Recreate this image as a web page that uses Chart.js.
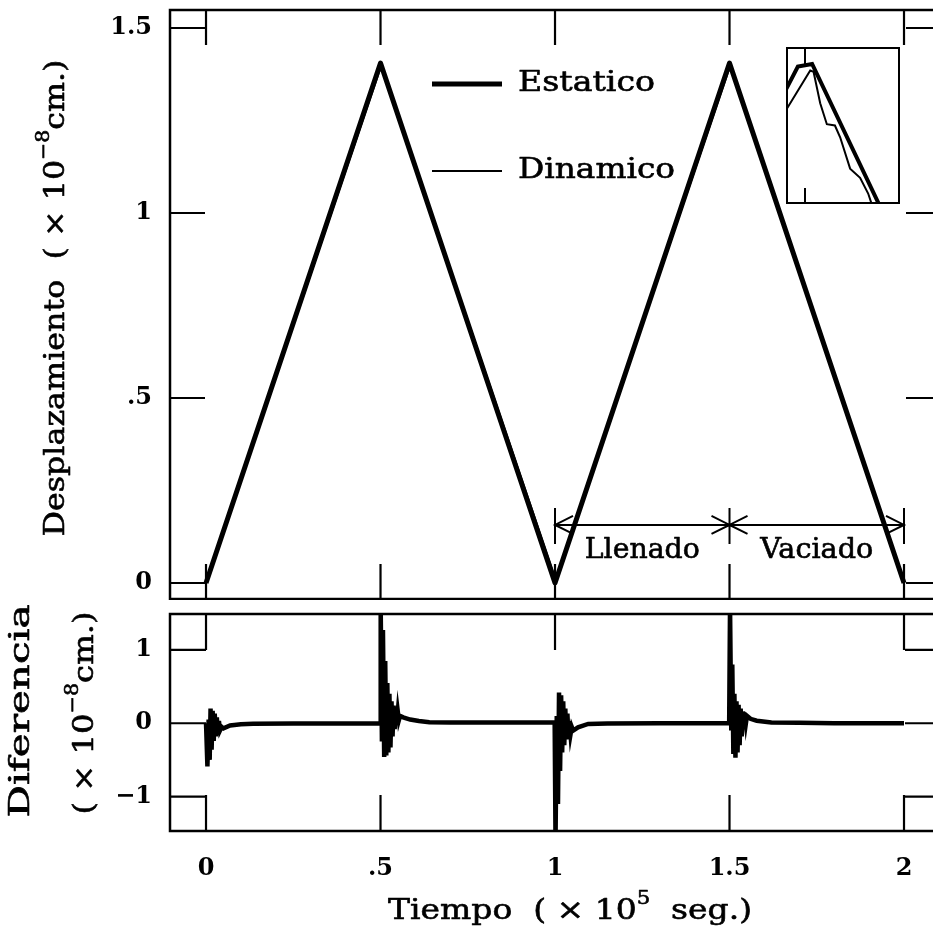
<!DOCTYPE html>
<html>
<head>
<meta charset="utf-8">
<script src="https://cdn.jsdelivr.net/npm/chart.js@4.4.1/dist/chart.umd.min.js"></script>
<style>
  html, body { margin: 0; padding: 0; background: #fff; overflow: hidden; }
  #wrap { position: relative; width: 933px; height: 931px; overflow: hidden; }
  canvas { position: absolute; }
  #top { left: 0; top: 0; }
  #bot { left: 0; top: 600px; }
  #ins { left: 786px; top: 47px; }
</style>
</head>
<body>
<div id="wrap">
  <canvas id="top" width="960" height="600"></canvas>
  <canvas id="bot" width="960" height="331"></canvas>
  <canvas id="ins" width="114" height="157"></canvas>
</div>
<script>
///////////////////////////////////////
//////////////// Data /////////////////
///////////////////////////////////////

const timeTicks = [0, 0.5, 1, 1.5, 2];
const dispTicks = [0, 0.5, 1, 1.5];
const diffTicks = [-1, 0, 1];

// Desplazamiento (x 10^-8 cm)
const estT = [0, 0.5, 1, 1.5, 2];
const estY = [0, 1.405, 0, 1.405, 0];
const dinT = [0, 0.502, 1.002, 1.502, 2];
const dinY = [0, 1.398, 0.01, 1.398, 0];

// Diferencia (dinamico - estatico)
const difT = [
  0, 0.004, 0.0075, 0.0105, 0.013, 0.016, 0.019, 0.022, 0.025, 0.028, 0.031, 0.034, 0.037, 0.040,
  0.045, 0.05, 0.069, 0.1, 0.135, 0.25, 0.499,
  0.5005, 0.504, 0.507, 0.5105, 0.5135, 0.5165, 0.5195, 0.5225, 0.5255, 0.5285, 0.5315, 0.5345,
  0.5375, 0.5405, 0.5435, 0.5465, 0.5495, 0.5525, 0.556, 0.565, 0.585, 0.61, 0.64, 0.7, 0.8, 0.999,
  1.0015, 1.005, 1.0085, 1.0115, 1.0145, 1.0175, 1.0205, 1.0235, 1.0265, 1.0295, 1.0325, 1.0355,
  1.0385, 1.0415, 1.0445, 1.048, 1.052, 1.066, 1.095, 1.15, 1.3, 1.499,
  1.5015, 1.505, 1.508, 1.511, 1.514, 1.517, 1.520, 1.523, 1.526, 1.529, 1.532, 1.535, 1.538,
  1.541, 1.544, 1.547, 1.550, 1.56, 1.578, 1.62, 1.7, 1.8, 2.0
];
const difY = [
  0, -0.59, 0.05, -0.50, 0.20, -0.36, 0.17, -0.24, 0.13, -0.18, 0.08, -0.14, 0.03, -0.10,
  -0.05, -0.07, -0.03, -0.015, -0.008, -0.005, 0.0,
  1.6, -0.25, 1.27, -0.46, 0.85, -0.44, 0.55, -0.40, 0.40, -0.33, 0.30, -0.18,
  0.24, -0.08, 0.20, 0.0, 0.16, 0.04, 0.10, 0.08, 0.05, 0.03, 0.015, 0.01, 0.01, 0.01,
  -1.6, 0.1, -1.1, 0.42, -0.65, 0.38, -0.40, 0.30, -0.30, 0.20, -0.22, 0.13,
  -0.19, 0.03, -0.15, -0.05, -0.10, -0.055, -0.01, -0.005, 0.0, 0.0,
  1.6, -0.1, 0.8, -0.42, 0.40, -0.47, 0.30, -0.40, 0.25, -0.30, 0.20, -0.18, 0.16,
  -0.08, 0.13, 0.0, 0.10, 0.06, 0.035, 0.01, 0.005, 0.0, 0.0
];

// detalle del pico en t = 1.5
const insEstT = [1.4955, 1.4985, 1.5015, 1.5166];
const insEstY = [1.384, 1.405, 1.407, 1.292];
const insDinT = [1.4952, 1.5011, 1.5018, 1.5032, 1.5046, 1.5063, 1.5074, 1.5095, 1.5116, 1.5133, 1.5145];
const insDinY = [1.367, 1.402, 1.401, 1.377, 1.361, 1.360, 1.351, 1.327, 1.320, 1.308, 1.295];

const pts = (xs, ys) => xs.map((x, i) => ({ x: x, y: ys[i] }));

///////////////////////////////////////
/////////////// Helpers ///////////////
///////////////////////////////////////

const SERIF = '"DejaVu Serif", serif';
const tickFont = { family: 'DejaVu Serif', size: 24, weight: 'bold' };

// 0.5 -> ".5", -1 -> "−1"
function fmt(v) {
  let s = String(v);
  if (s.indexOf('0.') === 0) s = s.slice(1);
  return s.replace('-', '\u2212');
}

// text made of parts (superscripts), centred on cx,cy, stretched to width
function rich(ctx, parts, cx, cy, width, rot) {
  ctx.save();
  ctx.translate(cx, cy);
  if (rot) ctx.rotate(rot);
  let w = 0;
  parts.forEach(p => {
    ctx.font = p.size + 'px ' + SERIF;
    p.w = ctx.measureText(p.text).width;
    w += p.w;
  });
  ctx.scale(width / w, 1);
  ctx.textBaseline = 'middle';
  ctx.textAlign = 'left';
  ctx.fillStyle = '#000';
  ctx.strokeStyle = '#000';
  ctx.lineWidth = 0.6;
  ctx.lineJoin = 'round';
  let x = -w / 2;
  parts.forEach(p => {
    ctx.font = p.size + 'px ' + SERIF;
    ctx.fillText(p.text, x, -(p.rise || 0));
    ctx.strokeText(p.text, x, -(p.rise || 0));
    x += p.w;
  });
  ctx.restore();
}

// box with inward ticks on all four sides
function frame(xT, yT, len) {
  return {
    id: 'frame',
    afterDatasetsDraw(chart) {
      const { ctx, chartArea: a, scales: { x, y } } = chart;
      ctx.save();
      ctx.strokeStyle = '#000';
      ctx.lineWidth = 2.2;
      ctx.beginPath();
      xT.forEach(v => {
        const px = x.getPixelForValue(v);
        ctx.moveTo(px, a.top); ctx.lineTo(px, a.top + len);
        ctx.moveTo(px, a.bottom); ctx.lineTo(px, a.bottom - len);
      });
      yT.forEach(v => {
        const py = y.getPixelForValue(v);
        ctx.moveTo(a.left, py); ctx.lineTo(a.left + len, py);
        ctx.moveTo(a.right, py); ctx.lineTo(a.right - len, py);
      });
      ctx.stroke();
      ctx.lineWidth = 2.5;
      ctx.strokeRect(a.left, a.top, a.right - a.left, a.bottom - a.top);
      ctx.restore();
    }
  };
}

function yAxis(min, max, ticks) {
  return {
    type: 'linear', min: min, max: max,
    afterBuildTicks: s => { s.ticks = ticks.map(v => ({ value: v })); },
    afterFit: s => { s.width = 170; s.paddingTop = 0; s.paddingBottom = 0; },
    grid: { display: false, drawTicks: false },
    border: { display: false },
    ticks: { callback: fmt, color: '#000', padding: 18, font: tickFont }
  };
}

const base = {
  animation: false,
  responsive: false,
  events: [],
  plugins: { legend: { display: false }, tooltip: { enabled: false } }
};

///////////////////////////////////////
///////////// Top panel ///////////////
///////////////////////////////////////

const topDeco = {
  id: 'topDeco',
  afterDraw(chart) {
    const { ctx, scales: { x, y } } = chart;
    ctx.save();
    ctx.strokeStyle = '#000';
    ctx.lineCap = 'butt';

    // legend
    ctx.lineWidth = 5;
    ctx.beginPath(); ctx.moveTo(432, 84); ctx.lineTo(502, 84); ctx.stroke();
    ctx.lineWidth = 2;
    ctx.beginPath(); ctx.moveTo(432, 171); ctx.lineTo(502, 171); ctx.stroke();
    rich(ctx, [{ text: 'Estatico', size: 28 }], 518 + 68.5, 84, 137);
    rich(ctx, [{ text: 'Dinamico', size: 28 }], 518 + 78.5, 171, 157);

    // Llenado / Vaciado arrows
    const ay = y.getPixelForValue(0.157);
    const x1 = x.getPixelForValue(1), xm = x.getPixelForValue(1.5), x2 = x.getPixelForValue(2);
    ctx.lineWidth = 2;
    ctx.beginPath();
    ctx.moveTo(x1, ay); ctx.lineTo(x2, ay);
    [x1, xm, x2].forEach(px => { ctx.moveTo(px, ay - 17); ctx.lineTo(px, ay + 19); });
    ctx.moveTo(x1 + 18, ay - 9); ctx.lineTo(x1, ay); ctx.lineTo(x1 + 18, ay + 9);
    ctx.moveTo(xm - 18, ay - 9); ctx.lineTo(xm, ay); ctx.lineTo(xm - 18, ay + 9);
    ctx.moveTo(xm + 18, ay - 9); ctx.lineTo(xm, ay); ctx.lineTo(xm + 18, ay + 9);
    ctx.moveTo(x2 - 18, ay - 9); ctx.lineTo(x2, ay); ctx.lineTo(x2 - 18, ay + 9);
    ctx.stroke();
    const ty = y.getPixelForValue(0.087);
    rich(ctx, [{ text: 'Llenado', size: 27 }], x.getPixelForValue(1.25), ty, 115);
    rich(ctx, [{ text: 'Vaciado', size: 27 }], x.getPixelForValue(1.75), ty, 113);

    // y title
    rich(ctx, [
      { text: 'Desplazamiento  ( \u00d7 10', size: 28 },
      { text: '\u22128', size: 18, rise: 13 },
      { text: 'cm.)', size: 28 }
    ], 57, 298, 477, -Math.PI / 2);
    ctx.restore();
  }
};

new Chart(document.getElementById('top'), {
  type: 'line',
  data: {
    datasets: [
      { label: 'Estatico', data: pts(estT, estY), borderColor: '#000', borderWidth: 5,
        pointRadius: 0, tension: 0, borderJoinStyle: 'round' },
      { label: 'Dinamico', data: pts(dinT, dinY), borderColor: '#000', borderWidth: 2,
        pointRadius: 0, tension: 0 }
    ]
  },
  options: Object.assign({}, base, {
    layout: { padding: { top: 10, right: 19, bottom: 1, left: 0 } },
    scales: {
      x: { type: 'linear', min: -0.1032, max: 2.106, display: false },
      y: yAxis(-0.0433, 1.5487, dispTicks)
    }
  }),
  plugins: [frame(timeTicks, dispTicks, 35), topDeco]
});

///////////////////////////////////////
//////////// Bottom panel /////////////
///////////////////////////////////////

const botDeco = {
  id: 'botDeco',
  afterDraw(chart) {
    const ctx = chart.ctx;
    rich(ctx, [{ text: 'Diferencia', size: 27 }], 22, 111, 213, -Math.PI / 2);
    rich(ctx, [
      { text: '( \u00d7 10', size: 28 },
      { text: '\u22128', size: 18, rise: 13 },
      { text: 'cm.)', size: 28 }
    ], 86, 113, 203, -Math.PI / 2);
    rich(ctx, [
      { text: 'Tiempo  ( \u00d7 10', size: 28 },
      { text: '5', size: 18, rise: 13 },
      { text: '  seg.)', size: 28 }
    ], 570, 312, 364);
  }
};

new Chart(document.getElementById('bot'), {
  type: 'line',
  data: {
    datasets: [
      { label: 'Diferencia', data: pts(difT, difY), borderColor: '#000', borderWidth: 4.5,
        pointRadius: 0, tension: 0 }
    ]
  },
  options: Object.assign({}, base, {
    layout: { padding: { top: 14, right: 19, bottom: 0, left: 0 } },
    scales: {
      x: {
        type: 'linear', min: -0.1032, max: 2.106,
        afterBuildTicks: s => { s.ticks = timeTicks.map(v => ({ value: v })); },
        afterFit: s => { s.height = 100; s.paddingLeft = 0; s.paddingRight = 0; },
        grid: { display: false, drawTicks: false },
        border: { display: false },
        ticks: { callback: fmt, color: '#000', padding: 23, maxRotation: 0, autoSkip: false, font: tickFont }
      },
      y: yAxis(-1.47, 1.49, diffTicks)
    }
  }),
  plugins: [frame(timeTicks, diffTicks, 36), botDeco]
});

///////////////////////////////////////
/////////////// Inset /////////////////
///////////////////////////////////////

const insFrame = {
  id: 'insFrame',
  afterDatasetsDraw(chart) {
    const { ctx, chartArea: a, scales: { x } } = chart;
    const px = x.getPixelForValue(1.5);
    ctx.save();
    ctx.strokeStyle = '#000';
    ctx.lineWidth = 2;
    ctx.strokeRect(a.left + 1, a.top + 1, a.right - a.left - 2, a.bottom - a.top - 2);
    ctx.beginPath();
    ctx.moveTo(px, a.top); ctx.lineTo(px, a.top + 18);
    ctx.moveTo(px, a.bottom); ctx.lineTo(px, a.bottom - 16);
    ctx.stroke();
    ctx.restore();
  }
};

new Chart(document.getElementById('ins'), {
  type: 'line',
  data: {
    datasets: [
      { data: pts(insEstT, insEstY), borderColor: '#000', borderWidth: 4, pointRadius: 0, tension: 0 },
      { data: pts(insDinT, insDinY), borderColor: '#000', borderWidth: 2, pointRadius: 0, tension: 0 }
    ]
  },
  options: Object.assign({}, base, {
    layout: { padding: 0 },
    scales: {
      x: { type: 'linear', min: 1.496, max: 1.52, display: false },
      y: { type: 'linear', min: 1.30, max: 1.42, display: false }
    }
  }),
  plugins: [insFrame]
});
</script>
</body>
</html>
